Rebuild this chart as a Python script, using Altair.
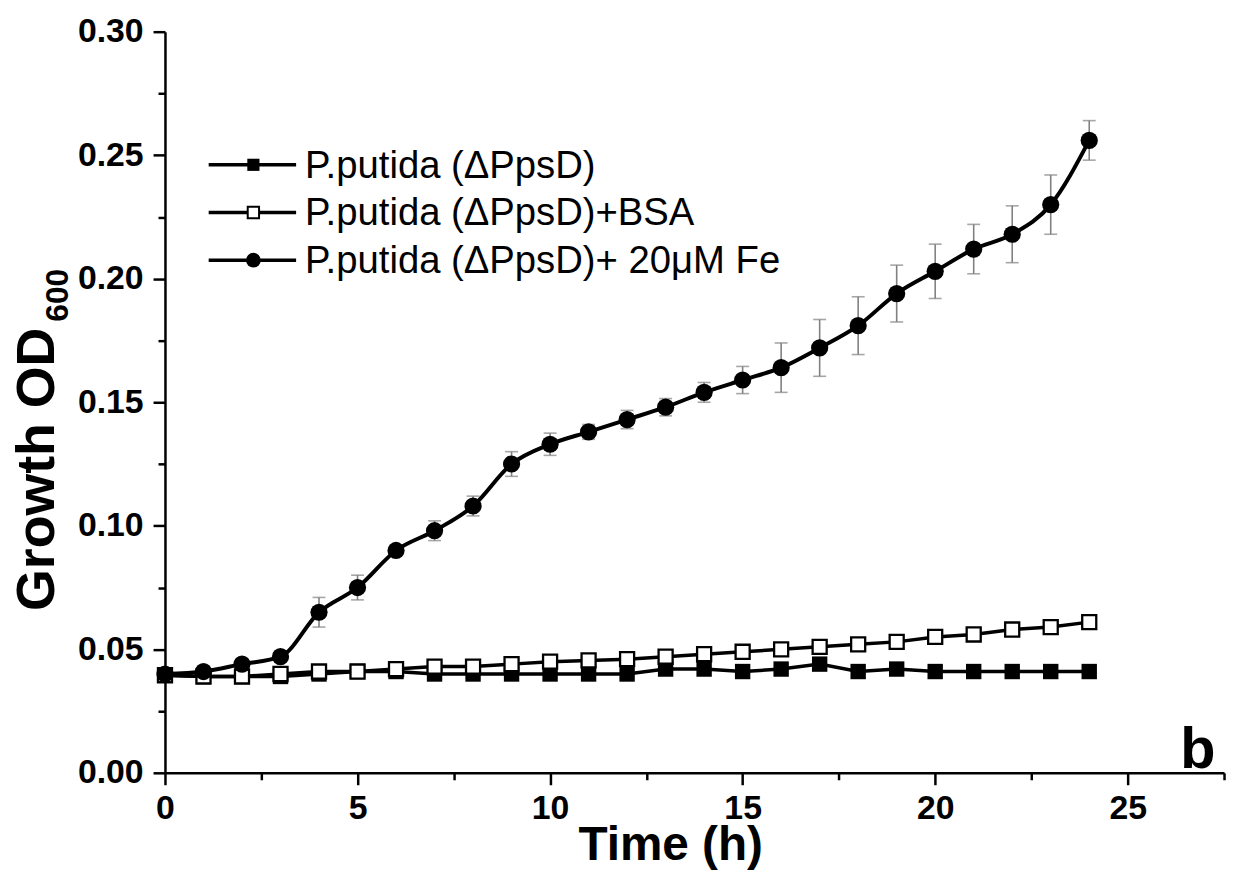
import altair as alt
import pandas as pd

# ---- data ----
hours = list(range(25))
od_plain = [0.0395, 0.039, 0.039, 0.039, 0.040, 0.041, 0.041, 0.040, 0.040, 0.040,
            0.040, 0.040, 0.040, 0.042, 0.042, 0.041, 0.042, 0.044, 0.041, 0.042,
            0.041, 0.041, 0.041, 0.041, 0.041]
od_bsa = [0.0395, 0.039, 0.039, 0.040, 0.041, 0.041, 0.042, 0.043, 0.043, 0.044,
          0.045, 0.0455, 0.046, 0.047, 0.048, 0.049, 0.050, 0.051, 0.052, 0.053,
          0.055, 0.056, 0.058, 0.059, 0.061]
od_fe = [0.040, 0.041, 0.044, 0.047, 0.065, 0.075, 0.090, 0.098, 0.108, 0.125,
         0.133, 0.138, 0.143, 0.148, 0.154, 0.159, 0.164, 0.172, 0.181, 0.194,
         0.203, 0.212, 0.218, 0.230, 0.256]
err_fe = [0.001, 0.001, 0.002, 0.002, 0.006, 0.005, 0.002, 0.004, 0.004, 0.005,
          0.0045, 0.003, 0.0037, 0.0035, 0.004, 0.0055, 0.010, 0.0115, 0.0117, 0.0115,
          0.011, 0.010, 0.0115, 0.012, 0.008]
labels = ["P.putida (\u0394PpsD)", "P.putida (\u0394PpsD)+BSA", "P.putida (\u0394PpsD)+ 20\u03bcM Fe"]
x_ticks = [0, 2.5, 5, 7.5, 10, 12.5, 15, 17.5, 20, 22.5, 25, 27.5]
y_ticks = [0.0, 0.025, 0.05, 0.075, 0.1, 0.125, 0.15, 0.175, 0.2, 0.225, 0.25, 0.275, 0.3]
x_title = "Time (h)"
y_title_main = "Growth OD"
y_title_sub = "600"
panel_tag = "b"

df_plain = pd.DataFrame({"hour": hours, "od": od_plain})
df_bsa = pd.DataFrame({"hour": hours, "od": od_bsa})
df_fe = pd.DataFrame({"hour": hours, "od": od_fe, "err": err_fe})
df_fe["lo"] = df_fe["od"] - df_fe["err"]
df_fe["hi"] = df_fe["od"] + df_fe["err"]

FONT = "Liberation Sans"
W, H = 1066, 746

xaxis = alt.Axis(
    values=x_ticks, title=None, labelExpr="datum.value % 5 === 0 ? datum.label : ''",
    tickSize={"condition": {"test": "datum.value % 5 === 0", "value": 12}, "value": 7},
    labelPadding=7, labelFlush=False, labelOverlap=False,
)
yaxis = alt.Axis(
    values=y_ticks, title=None,
    labelExpr="round(datum.value*1000) % 50 === 0 ? format(datum.value, '.2f') : ''",
    tickSize={"condition": {"test": "round(datum.value*1000) % 50 === 0", "value": 12}, "value": 7},
    labelPadding=10, labelFlush=False, labelOverlap=False,
)
yscale = alt.Scale(domain=[0, 0.30], nice=False)
X = alt.X("hour:Q", scale=alt.Scale(domain=[0, 27.5], nice=False, zero=False), axis=xaxis)
Y = alt.Y("od:Q", scale=yscale, axis=yaxis)

ERR_C = "#808080"
err_rule = alt.Chart(df_fe).mark_rule(color=ERR_C, strokeWidth=1.6).encode(
    x=X, y=alt.Y("lo:Q", scale=yscale, axis=yaxis), y2="hi:Q")
cap_lo = alt.Chart(df_fe).mark_tick(color=ERR_C, orient="horizontal", size=13, thickness=1.6).encode(
    x=X, y=alt.Y("lo:Q", scale=yscale, axis=yaxis))
cap_hi = alt.Chart(df_fe).mark_tick(color=ERR_C, orient="horizontal", size=13, thickness=1.6).encode(
    x=X, y=alt.Y("hi:Q", scale=yscale, axis=yaxis))

line_plain = alt.Chart(df_plain).mark_line(color="black", strokeWidth=3.5).encode(x=X, y=Y)
pts_plain = alt.Chart(df_plain).mark_point(shape="square", filled=True, color="black", size=240, opacity=1).encode(x=X, y=Y)
line_bsa = alt.Chart(df_bsa).mark_line(color="black", strokeWidth=3.5).encode(x=X, y=Y)
pts_bsa = alt.Chart(df_bsa).mark_point(shape="square", filled=True, fill="white", stroke="black",
                                      strokeWidth=2.3, size=200, opacity=1).encode(x=X, y=Y)
line_fe = alt.Chart(df_fe).mark_line(color="black", strokeWidth=4, interpolate="monotone").encode(x=X, y=Y)
pts_fe = alt.Chart(df_fe).mark_point(shape="circle", filled=True, color="black", size=300, opacity=1).encode(x=X, y=Y)

one = pd.DataFrame({"k": [0]})
leg_layers = []
row_y = [134, 182, 230]
for i, lab in enumerate(labels):
    ry = row_y[i]
    leg_layers.append(alt.Chart(one).mark_rule(color="black", strokeWidth=3.5).encode(
        x=alt.value(44), x2=alt.value(132), y=alt.value(ry)))
    if i == 0:
        mk = alt.Chart(one).mark_point(shape="square", filled=True, color="black", size=150, opacity=1)
    elif i == 1:
        mk = alt.Chart(one).mark_point(shape="square", filled=True, fill="white", stroke="black",
                                       strokeWidth=2, size=130, opacity=1)
    else:
        mk = alt.Chart(one).mark_point(shape="circle", filled=True, color="black", size=220, opacity=1)
    leg_layers.append(mk.encode(x=alt.value(89), y=alt.value(ry)))
    leg_layers.append(alt.Chart(one).mark_text(text=lab, font=FONT, fontSize=38.5, align="left",
                                               baseline="middle", color="black").encode(
        x=alt.value(141), y=alt.value(ry + 1)))

texts = [
    alt.Chart(one).mark_text(text=x_title, font=FONT, fontSize=48, fontWeight="bold", align="center",
                             baseline="alphabetic", color="black").encode(x=alt.value(509), y=alt.value(834)),
    alt.Chart(one).mark_text(text=y_title_main, font=FONT, fontSize=54, fontWeight="bold", align="left",
                             baseline="alphabetic", angle=270, color="black").encode(x=alt.value(-112), y=alt.value(583)),
    alt.Chart(one).mark_text(text=y_title_sub, font=FONT, fontSize=32, fontWeight="bold", align="left",
                             baseline="alphabetic", angle=270, color="black").encode(x=alt.value(-98), y=alt.value(292)),
    alt.Chart(one).mark_text(text=panel_tag, font=FONT, fontSize=58, fontWeight="bold", align="left",
                             baseline="alphabetic", color="black").encode(x=alt.value(1022), y=alt.value(741)),
]

chart = alt.layer(
    err_rule, cap_lo, cap_hi,
    line_plain, pts_plain, line_bsa, pts_bsa, line_fe, pts_fe,
    *leg_layers, *texts,
).properties(
    width=W, height=H,
    autosize=alt.AutoSizeParams(type="none"),
    padding={"left": 158, "top": 21, "right": 3, "bottom": 98},
).configure_view(stroke=None).configure_axis(
    grid=False, domainColor="black", domainWidth=2.5, tickColor="black", tickWidth=2.5,
    labelFont=FONT, labelFontSize=34, labelFontWeight="bold", labelColor="black",
)

chart.save("out.html", embed_options={"renderer": "svg", "actions": False})
